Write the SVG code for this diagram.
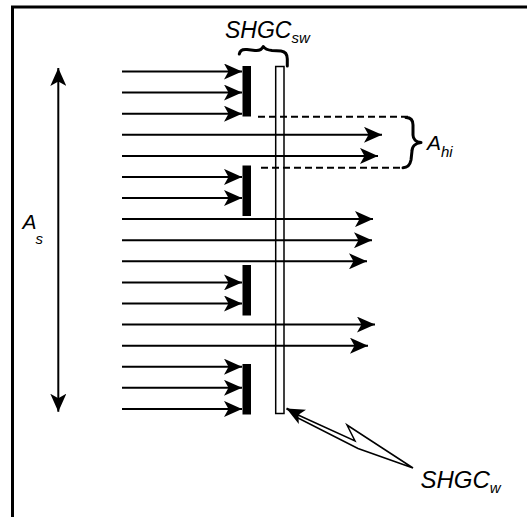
<svg xmlns="http://www.w3.org/2000/svg" width="527" height="517" viewBox="0 0 527 517">
<style>
.t{font-family:"Liberation Sans",Arial,sans-serif;font-style:italic;fill:#000}
.ln{stroke:#000;stroke-width:2;fill:none}
.dash{stroke:#000;stroke-width:2;fill:none;stroke-dasharray:7 4}
.brace{stroke:#000;stroke-width:3;fill:none;stroke-linecap:round;stroke-linejoin:round}
.bar{fill:#000}
</style>
<defs>
<marker id="ah" markerUnits="userSpaceOnUse" markerWidth="18" markerHeight="16" viewBox="0 0 18 16" refX="18" refY="8" orient="auto-start-reverse">
<path d="M0,0 L18,8 L0,16 L4.5,8 Z" fill="#000"/>
</marker>
</defs>
<rect width="527" height="517" fill="#fff"/>
<g id="frame">
<path d="M12.5,517 L12.5,7 L527,7" stroke="#000" stroke-width="3" fill="none"/>
</g>
<g id="pane">
<rect x="275.7" y="66.5" width="8.3" height="347" fill="#fff" stroke="#000" stroke-width="1.5"/>
</g>
<g id="shades">
<rect class="bar" x="242.5" y="66" width="8.5" height="50.5"/>
<rect class="bar" x="242.5" y="165.5" width="8.5" height="50.5"/>
<rect class="bar" x="242.5" y="265" width="8.5" height="50.5"/>
<rect class="bar" x="242.5" y="364" width="8.5" height="50.5"/>
</g>
<g id="connectors">
<line class="ln" x1="122" y1="71.5" x2="242" y2="71.5" marker-end="url(#ah)"/>
<line class="ln" x1="122" y1="92.6" x2="242" y2="92.6" marker-end="url(#ah)"/>
<line class="ln" x1="122" y1="113.7" x2="242" y2="113.7" marker-end="url(#ah)"/>
<line class="ln" x1="122" y1="134.8" x2="382" y2="134.8" marker-end="url(#ah)"/>
<line class="ln" x1="122" y1="155.9" x2="378" y2="155.9" marker-end="url(#ah)"/>
<line class="ln" x1="122" y1="176.9" x2="242" y2="176.9" marker-end="url(#ah)"/>
<line class="ln" x1="122" y1="198" x2="242" y2="198" marker-end="url(#ah)"/>
<line class="ln" x1="122" y1="219.1" x2="373" y2="219.1" marker-end="url(#ah)"/>
<line class="ln" x1="122" y1="240.2" x2="372" y2="240.2" marker-end="url(#ah)"/>
<line class="ln" x1="122" y1="261.3" x2="367" y2="261.3" marker-end="url(#ah)"/>
<line class="ln" x1="122" y1="282.4" x2="242" y2="282.4" marker-end="url(#ah)"/>
<line class="ln" x1="122" y1="303.5" x2="242" y2="303.5" marker-end="url(#ah)"/>
<line class="ln" x1="122" y1="324.6" x2="375" y2="324.6" marker-end="url(#ah)"/>
<line class="ln" x1="122" y1="345.7" x2="368" y2="345.7" marker-end="url(#ah)"/>
<line class="ln" x1="122" y1="366.7" x2="242" y2="366.7" marker-end="url(#ah)"/>
<line class="ln" x1="122" y1="387.8" x2="242" y2="387.8" marker-end="url(#ah)"/>
<line class="ln" x1="122" y1="408.9" x2="242" y2="408.9" marker-end="url(#ah)"/>
<line class="ln" x1="58.3" y1="68" x2="58.3" y2="411.7" marker-start="url(#ah)" marker-end="url(#ah)"/>
<line class="dash" x1="258" y1="116.7" x2="412" y2="116.7"/>
<line class="dash" x1="261" y1="167.7" x2="403" y2="167.7"/>
<path class="brace" d="M406,117.5 C411,117.5 413,120 413,125 L413,135 C413,139 416,142 421,142.5 C416,143 412,146 412,151 L411,160 C410,165 407,167.7 403,167.7"/>
<path class="brace" d="M239.3,54 C240,50 243,49 247,49.5 L255,50.5 C259,51 262,49 263.3,46.5 C265,49 267,50 272,50.5 L281,51 C285,51.5 287.3,54 287.3,59 L287.3,66"/>
<polygon points="297,414.5 355,441 347,425 413,468 358,448.5 297,417.5" fill="#fff" stroke="#000" stroke-width="1.5" stroke-linejoin="miter"/>
<line class="ln" x1="299" y1="415" x2="286.5" y2="408.5" marker-end="url(#ah)"/>
</g>
<g id="label-shgc-sw">
<text class="t" x="225" y="38.3" font-size="23">SHGC<tspan font-size="15" dy="5">sw</tspan></text>
</g>
<g id="label-ahi">
<text class="t" x="427" y="150" font-size="21">A<tspan font-size="15" dy="6.7">hi</tspan></text>
</g>
<g id="label-as">
<text class="t" x="22.5" y="229" font-size="21">A<tspan font-size="15" dy="15" dx="-1">s</tspan></text>
</g>
<g id="label-shgc-w">
<text class="t" x="420.5" y="488.3" font-size="24">SHGC<tspan font-size="15" dy="5">w</tspan></text>
</g>
</svg>
